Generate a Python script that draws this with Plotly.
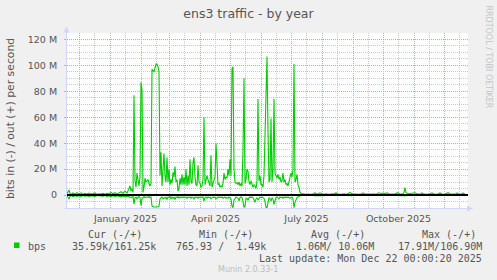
import plotly.graph_objects as go
import pandas as pd

# ---------------- data (Mbit/s, daily averages) ----------------
START = pd.Timestamp("2024-11-19")
END = pd.Timestamp("2025-12-25")

# day offsets from START
days = (
    [0, 1, 2, 3, 4, 6, 8, 10, 12, 14, 16, 18, 20, 22, 24, 26, 28, 30, 32, 34,
     36, 38, 40, 42, 44, 46, 48, 50, 52, 54, 56, 58, 60, 62]
    + list(range(63, 235))
    + [236, 238, 241, 244, 247, 248, 250, 253, 256, 259, 262, 265, 268, 269, 271,
       274, 277, 280, 283, 284, 286, 289, 292, 295, 296, 298, 301, 304, 307, 310,
       312, 314, 316, 318, 320, 322, 325, 328, 331, 333, 336, 337, 338, 339, 341,
       344, 346, 348, 350, 353, 355, 357, 360, 363, 365, 367, 370, 373, 375, 378,
       381, 383, 386, 389, 390, 392, 395, 396, 398]
)

out_mbps = (
    [1.0, 2.5, 3.9, 1.0, 0.4, 1.6, 0.7, 1.8, 0.9, 1.7, 0.6, 1.3, 0.8, 1.5, 0.7,
     1.1, 1.6, 0.5, 1.0, 0.8, 1.3, 0.6, 1.4, 0.9, 2.0, 1.0, 1.8, 0.7, 1.5, 2.6,
     1.2, 3.0, 1.5, 5.0]
    + [7, 3, 5, 2, 77, 11, 6, 17, 12, 7, 14, 87, 81, 2, 6, 13, 10, 11, 12, 9,
       7, 9, 97, 96, 95, 98, 101, 101, 99, 95, 15, 33, 7, 20, 32, 15, 10, 29, 10, 20,
       8, 12, 9, 17.5, 14, 22, 10, 12, 3, 5, 13, 8, 16, 8, 14, 8, 20, 7, 15, 8,
       27.5, 10, 9, 25, 29, 14, 8, 7, 23, 10, 9, 6, 7, 12, 60, 8, 11, 15, 12, 8,
       7, 30.6, 6, 9, 12, 14, 40, 17, 8, 9, 6, 7, 6, 9, 17, 12, 14, 13, 20, 15,
       27.6, 15, 97.6, 99, 20, 10, 9, 9.5, 8, 10, 7, 9, 6.7, 35, 90, 9, 12, 20, 18.5, 10,
       8, 11, 8, 6, 8, 7, 5, 11, 74, 11, 15, 8, 8, 6, 15, 45, 95, 106.9, 50, 10,
       12, 59, 10, 20, 74, 17, 15, 13, 16, 12, 14, 10, 11, 17, 10, 12, 8, 9, 7, 10,
       12, 17, 14, 20, 101, 10, 12, 16, 8, 6, 2, 1.2]
    + [0.9, 0.6, 0.8, 0.5, 1.0, 1.8, 0.7, 1.7, 0.6, 0.9, 0.5, 0.8, 1.2, 1.8, 0.7,
       0.6, 0.9, 0.6, 2.0, 1.4, 0.7, 0.8, 0.6, 1.0, 1.6, 0.7, 0.6, 0.9, 0.7, 1.0,
       1.7, 1.2, 1.6, 1.1, 1.7, 0.8, 0.6, 0.9, 1.8, 0.7, 1.0, 2.2, 5.7, 2.0, 1.0,
       1.4, 2.0, 1.8, 0.9, 0.6, 1.6, 0.7, 0.6, 0.9, 1.7, 0.7, 0.6, 1.6, 0.8, 0.6,
       1.8, 1.0, 0.7, 0.9, 1.6, 0.7, 0.8, 1.6, 0.6]
)

in_mbps = (
    [0.5, 1.6, 3.0, 1.0, 0.4, 1.2, 0.6, 1.0, 0.5, 1.1, 0.4, 0.9, 0.6, 1.0, 0.5,
     0.8, 1.1, 0.4, 0.7, 0.5, 0.9, 0.4, 1.0, 0.6, 1.2, 0.6, 1.0, 0.5, 0.9, 1.4,
     0.8, 1.5, 0.9, 1.5]
    + [1.5, 2, 1.5, 1, 7, 2, 1.5, 3, 2, 1, 2, 8, 3, 1.5, 1, 2, 1.5, 1.5, 2, 1,
       2, 1.5, 8.5, 9, 9.2, 9.2, 9.2, 9.2, 9, 8.5, 3, 2, 1.5, 3, 2, 2.5, 1.5, 3.5, 1.5, 2,
       1, 3, 1.5, 2.5, 1.5, 3.5, 1.5, 2, 1, 2.5, 1.5, 2, 1.5, 2, 1.5, 2, 1.5, 2.5, 1.5, 2,
       1.5, 2.5, 1.5, 2, 3, 1.5, 2, 1.5, 2.5, 1.5, 2, 1.5, 2, 1.5, 4.6, 2, 1.5, 2.5, 1.5, 2,
       1.5, 3, 2, 1.5, 2, 1.5, 3, 2, 1.5, 2, 1.5, 2, 1.5, 2.5, 2, 1.5, 2.5, 2, 2.5, 1.5,
       2, 3, 8.5, 9.7, 4, 2, 1.5, 2, 2.5, 4.5, 2, 1.5, 2, 5, 9.5, 8.5, 3, 2.5, 4, 2,
       1.5, 2, 1.5, 2, 4, 5.6, 3, 2, 3.9, 2, 1.5, 2, 1.5, 2, 2.5, 5, 9.7, 9.7, 5, 2,
       3, 4.6, 2, 3, 7.2, 3, 2, 1.5, 2, 3, 1.5, 2, 1.5, 2.5, 1.5, 2, 1.5, 2, 1.5, 2,
       2.5, 2, 1.5, 3, 9.7, 5.6, 3, 2, 1.5, 1, 0.5, 0.4]
    + [0.4, 0.3, 0.5, 0.3, 0.4, 0.6, 0.3, 0.5, 0.3, 0.4, 0.3, 0.4, 0.5, 0.6, 0.3,
       0.3, 0.4, 0.3, 0.6, 0.5, 0.3, 0.4, 0.3, 0.4, 0.5, 0.3, 0.3, 0.4, 0.3, 0.4,
       0.5, 0.4, 0.5, 0.4, 0.5, 0.3, 0.3, 0.4, 0.5, 0.3, 0.4, 0.6, 1.0, 0.6, 0.4,
       0.4, 0.5, 0.5, 0.3, 0.3, 0.5, 0.3, 0.3, 0.4, 0.5, 0.3, 0.3, 0.5, 0.3, 0.3,
       0.5, 0.4, 0.3, 0.4, 0.5, 0.3, 0.3, 0.4, 0.2]
)

y_tickvals = [0, 20, 40, 60, 80, 100, 120]
y_ticktext = ["0", "20 M", "40 M", "60 M", "80 M", "100 M", "120 M"]
x_label_text = {1: "January 2025", 4: "April 2025", 7: "July 2025", 10: "October 2025"}

legend_head = ["Cur (-/+)", "Min (-/+)", "Avg (-/+)", "Max (-/+)"]
legend_vals = ["35.59k/161.25k", "765.93 /  1.49k", "1.06M/ 10.06M", "17.91M/106.90M"]
last_update = "Last update: Mon Dec 22 00:00:20 2025"

# ---------------- styling ----------------
W, H = 497, 280
L, R, T, B = 67, 468, 33, 208
GREEN = "#00cc00"
MGRID = "#e79c9c"
GRID = "#c8c8c8"
AXIS = "#cfd6f8"
FONT = "#555555"
DOT = "1px,1px"
HALF_DAY = pd.Timedelta(hours=12)   # puts 1px grid lines on pixel centres


def px(x, y):
    return (x - L) / (R - L), (B - y) / (B - T)


dates = [START + pd.Timedelta(days=d) for d in days]
in_neg = [-v for v in in_mbps]

# grid positions: month starts (reddish) and mid-month (grey, carries the labels)
month_starts = list(pd.date_range("2024-12-01", "2025-12-01", freq="MS"))
mid_months = [m + pd.Timedelta(days=15) for m in month_starts]
x_major = [m + HALF_DAY for m in mid_months]
x_major_text = [x_label_text.get(m.month, "") if m.year == 2025 else "" for m in mid_months]
x_minor = [m + HALF_DAY for m in month_starts]

fig = go.Figure()
fig.add_trace(go.Scatter(x=dates, y=out_mbps, mode="lines",
                         line=dict(color=GREEN, width=1.1), hoverinfo="skip"))
fig.add_trace(go.Scatter(x=dates, y=in_neg, mode="lines",
                         line=dict(color=GREEN, width=1.1), hoverinfo="skip"))

shapes = []
# zero rule
shapes.append(dict(type="line", xref="paper", yref="y", x0=0, x1=1, y0=0, y1=0,
                   line=dict(color="#000000", width=2), layer="above"))
# legend colour box
bx0, by0 = px(14, 248)
bx1, by1 = px(19.5, 242.5)
shapes.append(dict(type="rect", xref="paper", yref="paper", x0=bx0, x1=bx1, y0=by0, y1=by1,
                   fillcolor=GREEN, line=dict(width=0)))

ann = []
# axes with arrows
hx, hy = px(66.5, 26.5)
ann.append(dict(xref="paper", yref="paper", x=hx, y=hy, ax=0, ay=184, axref="pixel", ayref="pixel",
                text="", showarrow=True, arrowhead=2, arrowsize=1.2, arrowwidth=1,
                arrowcolor=AXIS, standoff=0))
hx, hy = px(473, 208.5)
ann.append(dict(xref="paper", yref="paper", x=hx, y=hy, ax=-410, ay=0, axref="pixel", ayref="pixel",
                text="", showarrow=True, arrowhead=2, arrowsize=1.2, arrowwidth=1,
                arrowcolor=AXIS, standoff=0))

MONO = "DejaVu Sans Mono"


def txt(s, x, y, anchor, size=10, family=MONO, color=FONT, angle=0):
    ax_, ay_ = px(x, y)
    ann.append(dict(xref="paper", yref="paper", x=ax_, y=ay_, text=s.replace(" ", "\u00a0"),
                    showarrow=False, xanchor=anchor, yanchor="middle", textangle=angle,
                    font=dict(family=family, size=size, color=color)))


head_right = [142.7, 254.3, 365.7, 476.7]
val_right = [157.3, 266.7, 375, 483.3]
for s, xr in zip(legend_head, head_right):
    txt(s, xr + 1, 234.5, "right")
for s, xr in zip(legend_vals, val_right):
    txt(s, xr + 1, 246, "right")
txt("bps", 26, 246, "left")
txt(last_update, 484.3, 258, "right")
txt("Munin 2.0.33-1", 248.3, 269, "center", size=8, family="DejaVu Sans", color="#bdbdbd")
txt("bits in (-) / out (+) per second", 10, 119, "center", size=10.8, family="DejaVu Sans", angle=-90)
txt("RRDTOOL / TOBI OETIKER", 488.3, 56.7, "center", size=8, family="DejaVu Sans", color="#c4c4c4", angle=90)

fig.update_layout(
    width=W, height=H,
    margin=dict(l=L, r=W - R, t=T, b=H - B, pad=0),
    paper_bgcolor="#f0f0f0", plot_bgcolor="#ffffff",
    showlegend=False,
    font=dict(family="DejaVu Sans", size=9.5, color=FONT),
    title=dict(text="ens3 traffic - by year", x=0.5, xref="container", xanchor="center",
               y=1 - 14 / H, yref="container", yanchor="middle",
               font=dict(family="DejaVu Sans", size=12.5, color=FONT)),
    shapes=shapes, annotations=ann,
)
fig.update_xaxes(type="date", range=[START, END], zeroline=False, showline=False,
                 tickmode="array", tickvals=x_major, ticktext=x_major_text,
                 showgrid=True, gridcolor=GRID, gridwidth=1, griddash=DOT,
                 minor=dict(tickmode="array", tickvals=x_minor, showgrid=True, gridcolor=MGRID,
                            griddash=DOT, gridwidth=1),
                 ticklabelstandoff=3,
                 tickfont=dict(family="DejaVu Sans", size=9.5, color=FONT))
fig.update_yaxes(range=[-10, 125], tickmode="array", tickvals=y_tickvals, ticktext=y_ticktext,
                 showgrid=True, gridcolor=MGRID, gridwidth=1, griddash=DOT,
                 minor=dict(tickmode="linear", tick0=0, dtick=5, showgrid=True, gridcolor=GRID,
                            griddash=DOT, gridwidth=1),
                 zeroline=False, showline=False, ticks="outside", ticklen=2, tickcolor=MGRID,
                 ticklabelstandoff=5,
                 tickfont=dict(family="DejaVu Sans", size=9.5, color=FONT))

fig.write_html("out.html")
